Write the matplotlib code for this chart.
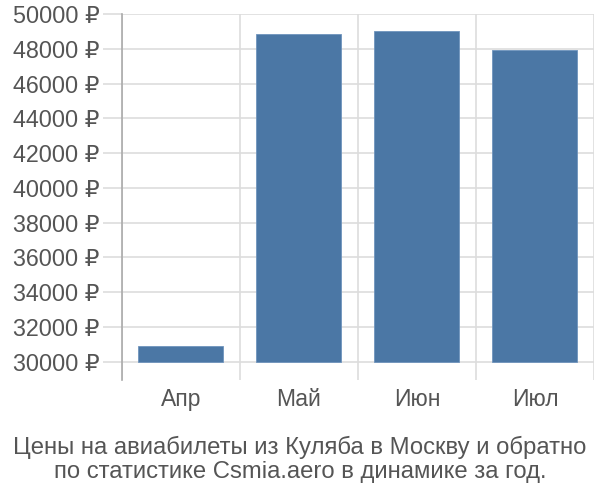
import matplotlib.pyplot as plt
import numpy as np

plt.rcParams['font.family'] = ['Liberation Sans', 'DejaVu Sans']

months = ['Апр', 'Май', 'Июн', 'Июл']
prices = [30920, 48850, 49030, 47930]
base = 30000
yticks = list(range(30000, 50001, 2000))
title = 'Цены на авиабилеты из Куляба в Москву и обратно\nпо статистике Csmia.aero в динамике за год.'

grid_c = '#dddddd'
text_c = '#555555'

fig = plt.figure(figsize=(6, 5), dpi=100)
ax = fig.add_axes([0.203, 0.24, 0.787, 0.732])

x = np.arange(len(months))
ax.bar(x, [p - base for p in prices], bottom=base, width=0.72,
       color='#4b77a5', edgecolor='#6f94bd', linewidth=0.6, zorder=3)

ax.set_xlim(-0.5, len(months) - 0.5)
ax.set_ylim(28950, 50000)

ax.set_yticks(yticks)
ax.set_yticklabels([f'{v} ₽' for v in yticks])
ax.set_xticks(x)
ax.set_xticklabels(months)
ax.set_xticks(np.arange(-0.5, len(months), 1), minor=True)

ax.grid(axis='y', color=grid_c, linewidth=1.2, zorder=0)
ax.grid(axis='x', which='minor', color=grid_c, linewidth=1.2, zorder=0)

ax.tick_params(axis='y', length=14, width=1.2, color=grid_c, pad=2,
               labelsize=16.8, labelcolor=text_c)
ax.tick_params(axis='x', which='major', length=0, pad=6,
               labelsize=16.5, labelcolor=text_c)
ax.tick_params(axis='x', which='minor', length=0)

for s in ['top', 'right', 'bottom']:
    ax.spines[s].set_visible(False)
ax.spines['left'].set_color('#aaaaaa')
ax.spines['left'].set_linewidth(1.2)

fig.text(0.5, 0.081, title, ha='center', va='center', fontsize=17.2,
         color=text_c, linespacing=1.12)

fig.savefig('out.png', dpi=100)
